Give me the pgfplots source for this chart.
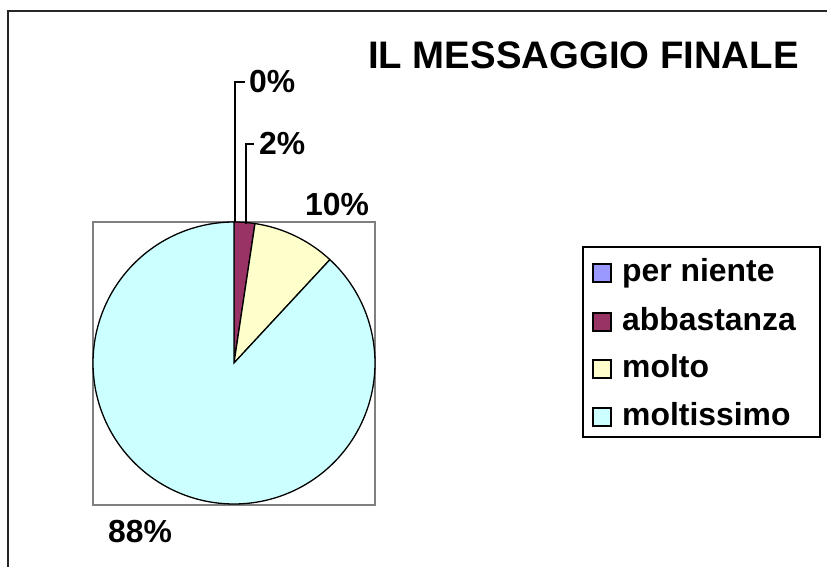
\documentclass[border=0pt]{standalone}
\usepackage{fontspec}
\setmainfont{Liberation Sans}
\usepackage{pgfplots}
\pgfplotsset{compat=1.18}
\definecolor{cPer}{HTML}{9999FF}
\definecolor{cAbb}{HTML}{993366}
\definecolor{cMol}{HTML}{FFFFCC}
\definecolor{cMos}{HTML}{CCFFFF}
% data: answers per category
\def\vPer{0}
\def\vAbb{1}
\def\vMol{4}
\def\vMos{37}
\tikzset{lab/.style={anchor=base west, inner sep=0, font=\fontsize{32}{32}\selectfont\bfseries}}
\begin{document}
\begin{tikzpicture}
\pgfmathsetmacro{\tot}{\vPer+\vAbb+\vMol+\vMos}
\pgfmathsetmacro{\aA}{90-360*\vPer/\tot}
\pgfmathsetmacro{\aB}{\aA-360*\vAbb/\tot}
\pgfmathsetmacro{\aC}{\aB-360*\vMol/\tot}
\pgfmathsetmacro{\aD}{\aC-360*\vMos/\tot}
\useasboundingbox (0,0) rectangle (827bp,567bp);
\clip (0,0) rectangle (827bp,567bp);
\begin{axis}[at={(0,0)}, anchor=south west, scale only axis,
  width=827bp, height=567bp, xmin=0, xmax=827, ymin=0, ymax=567,
  hide axis, clip=false]
% outer frame
\draw[black!85, line width=2bp] (axis cs:8,-20) rectangle (axis cs:860,556);
% plot area
\draw[gray, line width=2bp] (axis cs:93,62) rectangle (axis cs:375,345);
% pie slices
\addplot[draw=black, fill=cAbb, line width=1.3bp, domain=\aB:\aA, samples=20]
  ({234+141*cos(x)}, {204+141*sin(x)}) -- (axis cs:234,204) -- cycle;
\addplot[draw=black, fill=cMol, line width=1.3bp, domain=\aC:\aB, samples=40]
  ({234+141*cos(x)}, {204+141*sin(x)}) -- (axis cs:234,204) -- cycle;
\addplot[draw=black, fill=cMos, line width=1.3bp, domain=\aD:\aC, samples=200]
  ({234+141*cos(x)}, {204+141*sin(x)}) -- (axis cs:234,204) -- cycle;
% leader lines
\draw[black, line width=1.3bp] (axis cs:235,345) -- (axis cs:235,485) -- (axis cs:245,485);
\draw[black, line width=1.3bp] (axis cs:246,343) -- (axis cs:246,423) -- (axis cs:254,423);
% labels
\node[lab] at (axis cs:249,474) {0\%};
\node[lab] at (axis cs:259,412) {2\%};
\node[lab] at (axis cs:305,351) {10\%};
\node[lab] at (axis cs:108,25) {88\%};
% title
\node[anchor=base west, inner sep=0, font=\fontsize{38.5}{38.5}\selectfont\bfseries] at (axis cs:368,498) {IL MESSAGGIO FINALE};
% legend
\draw[black, line width=1.5bp] (axis cs:583,130) rectangle (axis cs:820,320);
\draw[black, line width=1.2bp, fill=cPer] (axis cs:593,285) rectangle (axis cs:611,303);
\node[lab] at (axis cs:622,285) {per niente};
\draw[black, line width=1.2bp, fill=cAbb] (axis cs:593,236) rectangle (axis cs:611,254);
\node[lab] at (axis cs:622,236) {abbastanza};
\draw[black, line width=1.2bp, fill=cMol] (axis cs:593,189) rectangle (axis cs:611,207);
\node[lab] at (axis cs:622,189) {molto};
\draw[black, line width=1.2bp, fill=cMos] (axis cs:593,141) rectangle (axis cs:611,159);
\node[lab] at (axis cs:622,141) {moltissimo};
\end{axis}
\end{tikzpicture}
\end{document}
